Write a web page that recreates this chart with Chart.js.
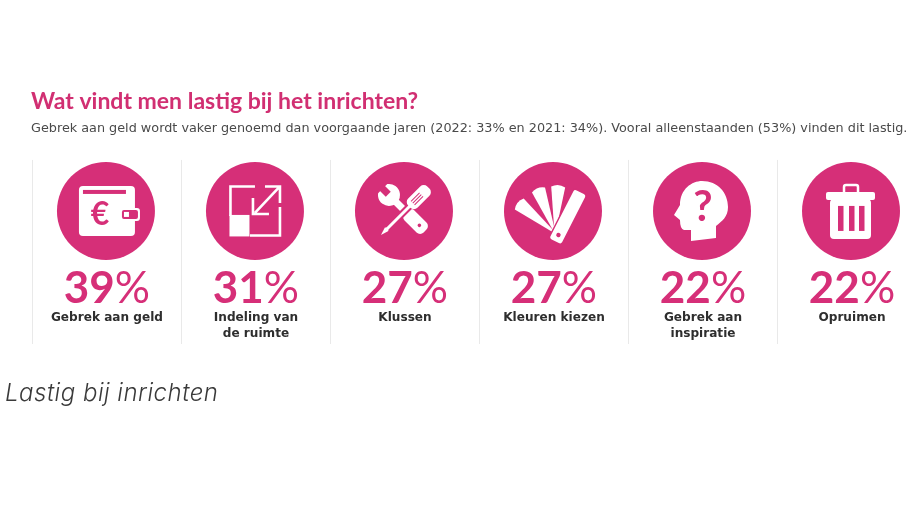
<!DOCTYPE html>
<html>
<head>
<meta charset="utf-8">
<script src="https://cdn.jsdelivr.net/npm/chart.js@4/dist/chart.umd.min.js"></script>
<style>
  html, body { margin: 0; background: #fff; }
  canvas { display: block; }
</style>
</head>
<body>
<canvas id="chart" width="920" height="518"></canvas>
<script>
const titleText = "Wat vindt men lastig bij het inrichten?";
const subtitleText = "Gebrek aan geld wordt vaker genoemd dan voorgaande jaren (2022: 33% en 2021: 34%). Vooral alleenstaanden (53%) vinden dit lastig.";
const captionText = "Lastig bij inrichten";
const categories = [["Gebrek aan geld"], ["Indeling van", "de ruimte"], ["Klussen"], ["Kleuren kiezen"], ["Gebrek aan", "inspiratie"], ["Opruimen"]];
const values = [39, 31, 27, 27, 22, 22];

const PINK = "#d62f78";

function iconWallet(ctx) {
    ctx.fillStyle = "#fff";
    ctx.beginPath(); ctx.roundRect(-27, -25, 56, 50, 4); ctx.fill();
    ctx.beginPath(); ctx.roundRect(14, -3, 20, 13, 3); ctx.fill();
    ctx.fillStyle = PINK;
    ctx.fillRect(-23, -21, 43, 4);
    ctx.beginPath(); ctx.roundRect(16, -1, 16, 9, 2); ctx.fill();
    ctx.fillStyle = "#fff";
    ctx.fillRect(18, 1, 5, 5);
    ctx.fillStyle = PINK;
    ctx.font = "bold 32px Lato";
    ctx.textAlign = "center";
    ctx.textBaseline = "middle";
    ctx.fillText("€", -6, 4);
}

function iconResize(ctx) {
    ctx.fillStyle = "#fff";
    ctx.fillRect(-25.5, 4, 20, 21.5);
    ctx.strokeStyle = "#fff";
    ctx.lineWidth = 2.6;
    ctx.beginPath();
    ctx.moveTo(0, -24.5); ctx.lineTo(-24.5, -24.5); ctx.lineTo(-24.5, 5);
    ctx.moveTo(-5, 24.5); ctx.lineTo(25, 24.5); ctx.lineTo(25, -4);
    ctx.moveTo(10, -24.5); ctx.lineTo(25, -24.5); ctx.lineTo(25, -8);
    ctx.moveTo(24, -23.5); ctx.lineTo(0, 2);
    ctx.moveTo(-2, -13); ctx.lineTo(-2, 3); ctx.lineTo(14, 3);
    ctx.stroke();
}

function iconTools(ctx) {
    ctx.fillStyle = "#fff";
    ctx.strokeStyle = "#fff";
    ctx.lineCap = "round";
    // wrench
    ctx.save();
    ctx.translate(-15, -16);
    ctx.rotate(Math.PI / 4);
    ctx.beginPath();
    ctx.arc(0, 0, 11, Math.PI * 1.2, Math.PI * 0.8, false);
    ctx.closePath();
    ctx.fill();
    ctx.fillStyle = PINK;
    ctx.fillRect(-12, -3.5, 11, 7);
    ctx.fillStyle = "#fff";
    ctx.fillRect(4, -3.5, 24, 7);
    ctx.beginPath(); ctx.roundRect(24, -7, 27, 14, 5); ctx.fill();
    ctx.fillStyle = PINK;
    ctx.beginPath(); ctx.arc(43, 0, 1.8, 0, Math.PI * 2); ctx.fill();
    ctx.restore();
    // screwdriver, with a pink edge where it crosses the wrench
    ctx.save();
    ctx.translate(-23, 24);
    ctx.rotate(-Math.PI / 4);
    ctx.strokeStyle = PINK;
    ctx.lineWidth = 7;
    ctx.lineCap = "butt";
    ctx.beginPath(); ctx.moveTo(24, 0); ctx.lineTo(42, 0); ctx.stroke();
    ctx.strokeStyle = "#fff";
    ctx.lineWidth = 3;
    ctx.beginPath(); ctx.moveTo(6, 0); ctx.lineTo(42, 0); ctx.stroke();
    ctx.beginPath(); ctx.moveTo(0, 0); ctx.lineTo(8, -2.5); ctx.lineTo(10, 0); ctx.lineTo(8, 2.5); ctx.closePath(); ctx.fill();
    ctx.fillStyle = "#fff";
    ctx.beginPath(); ctx.roundRect(40, -6.5, 27, 13, 5); ctx.fill();
    ctx.strokeStyle = PINK;
    ctx.lineWidth = 1;
    [-2.5, 0, 2.5].forEach((o) => {
        ctx.beginPath(); ctx.moveTo(45, o); ctx.lineTo(57, o); ctx.stroke();
    });
    ctx.restore();
}

function iconSwatches(ctx) {
    ctx.fillStyle = "#fff";
    [-51, -21, 4].forEach((deg) => {
        ctx.save();
        ctx.translate(2, 22);
        ctx.rotate(deg * Math.PI / 180);
        ctx.beginPath();
        ctx.moveTo(-0.8, -2);
        ctx.lineTo(-7, -46);
        ctx.quadraticCurveTo(0, -50, 7, -46);
        ctx.lineTo(0.8, -2);
        ctx.closePath();
        ctx.fill();
        ctx.restore();
    });
    ctx.save();
    ctx.translate(5, 25);
    ctx.rotate(27 * Math.PI / 180);
    ctx.strokeStyle = PINK;
    ctx.lineWidth = 3;
    ctx.beginPath(); ctx.roundRect(-6.5, -49, 13, 55, 2.5); ctx.stroke();
    ctx.fill();
    ctx.fillStyle = PINK;
    ctx.beginPath(); ctx.arc(0, -1, 2.2, 0, Math.PI * 2); ctx.fill();
    ctx.restore();
}

function iconHead(ctx) {
    ctx.fillStyle = "#fff";
    ctx.beginPath();
    ctx.moveTo(14, 27);
    ctx.lineTo(-11, 30);
    ctx.lineTo(-11, 19);
    ctx.lineTo(-18, 19);
    ctx.quadraticCurveTo(-22, 18, -22, 9);
    ctx.lineTo(-28, 4);
    ctx.lineTo(-22, -6);
    ctx.bezierCurveTo(-22, -22, -10, -30, 0, -30);
    ctx.bezierCurveTo(16, -30, 26, -18, 26, -4);
    ctx.bezierCurveTo(26, 6, 20, 10, 14, 15);
    ctx.closePath();
    ctx.fill();
    ctx.fillStyle = PINK;
    ctx.font = "bold 42px Lato";
    ctx.textAlign = "center";
    ctx.textBaseline = "middle";
    ctx.fillText("?", 1, -3);
}

function iconTrash(ctx) {
    ctx.fillStyle = "#fff";
    ctx.strokeStyle = "#fff";
    ctx.lineWidth = 2.5;
    ctx.beginPath(); ctx.roundRect(-7, -26, 14, 9, 2); ctx.stroke();
    ctx.beginPath(); ctx.roundRect(-25, -19, 49, 8, 2); ctx.fill();
    ctx.beginPath(); ctx.roundRect(-21, -12, 41, 40, 4); ctx.fill();
    ctx.fillStyle = PINK;
    [-13, -2, 8].forEach((x) => ctx.fillRect(x, -5, 5.5, 25));
}

const icons = [iconWallet, iconResize, iconTools, iconSwatches, iconHead, iconTrash];

const infographicPlugin = {
    id: "infographic",
    afterDatasetsDraw(chart) {
        const ctx = chart.ctx;
        const points = chart.getDatasetMeta(0).data;

        points.forEach((pt, i) => {
            ctx.save();
            ctx.translate(pt.x, pt.y);
            icons[i](ctx);
            ctx.restore();

            // big percentage: heavy digits, lighter percent sign
            ctx.save();
            ctx.fillStyle = PINK;
            ctx.textBaseline = "alphabetic";
            ctx.textAlign = "left";
            const num = String(values[i]);
            ctx.font = "bold 44px Lato";
            const numWidth = ctx.measureText(num).width;
            ctx.font = "400 44px Lato";
            const pctWidth = ctx.measureText("%").width;
            const startX = pt.x + 1 - (numWidth + pctWidth) / 2;
            ctx.font = "bold 44px Lato";
            ctx.fillText(num, startX, pt.y + 92);
            ctx.font = "400 44px Lato";
            ctx.fillText("%", startX + numWidth, pt.y + 92);
            ctx.restore();

            ctx.save();
            ctx.fillStyle = "#2e2e2e";
            ctx.font = "bold 12.1px 'DejaVu Sans'";
            ctx.textAlign = "center";
            ctx.textBaseline = "alphabetic";
            categories[i].forEach((line, n) => {
                ctx.fillText(line, pt.x + 1, pt.y + 110 + n * 16.5);
            });
            ctx.restore();
        });

        ctx.save();
        ctx.fillStyle = "#3a3a3a";
        ctx.font = "italic 300 24px Inter";
        ctx.letterSpacing = "0.5px";
        ctx.textAlign = "left";
        ctx.textBaseline = "alphabetic";
        ctx.fillText(captionText, 5, 401);
        ctx.restore();
    }
};

new Chart(document.getElementById("chart"), {
    type: "scatter",
    data: {
        datasets: [{
            data: values.map((v, i) => ({ x: i, y: 0.723 })),
            backgroundColor: PINK,
            borderWidth: 0,
            pointRadius: 49,
            pointHoverRadius: 49,
            clip: false
        }]
    },
    options: {
        responsive: false,
        animation: false,
        layout: { autoPadding: false, padding: { left: 31, right: 0, top: 88, bottom: 174 } },
        plugins: {
            legend: { display: false },
            tooltip: { enabled: false },
            title: {
                display: true,
                text: titleText,
                align: "start",
                color: "#d12f72",
                font: { family: "Lato", size: 23, weight: "bold" },
                padding: { top: 0, bottom: 5 }
            },
            subtitle: {
                display: true,
                text: subtitleText,
                align: "start",
                color: "#4a4a4a",
                font: { family: "'DejaVu Sans'", size: 12.8, weight: "normal" },
                padding: { top: 0, bottom: 24 }
            }
        },
        scales: {
            x: {
                type: "linear",
                min: -0.503,
                max: 5.463,
                afterBuildTicks(scale) {
                    scale.ticks = categories.map((c, i) => ({ value: i - 0.49 }));
                },
                ticks: { display: false },
                grid: { color: "#e9e9e9", lineWidth: 1, drawTicks: false },
                border: { display: false }
            },
            y: {
                min: 0,
                max: 1,
                display: false
            }
        }
    },
    plugins: [infographicPlugin]
});
</script>
</body>
</html>
